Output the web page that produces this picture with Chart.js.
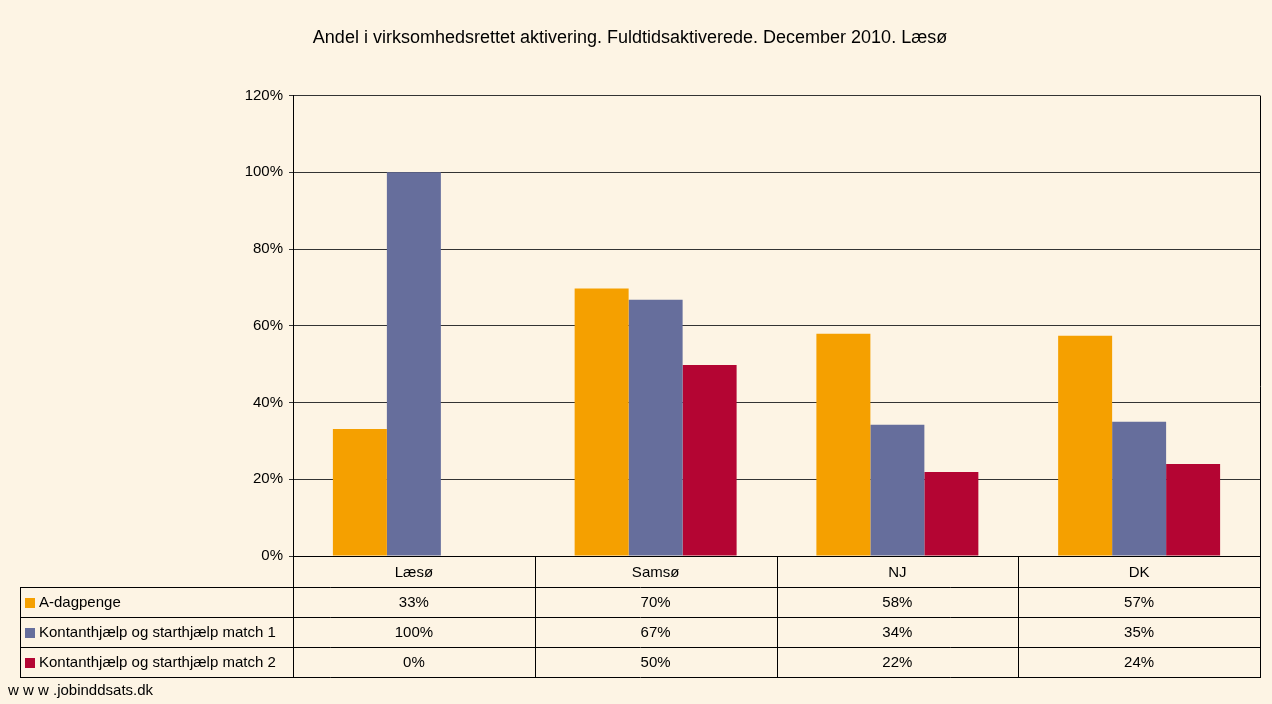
<!DOCTYPE html>
<html lang="da">

<head>
    <meta charset="UTF-8">
    <title>Andel i virksomhedsrettet aktivering</title>
    <script src="https://cdn.jsdelivr.net/npm/chart.js"></script>
    <style>
        body { margin: 0; background: #fdf4e4; }
        canvas { display: block; }
    </style>
</head>

<body>
    <canvas id="myChart" width="1272" height="704"></canvas>
</body>

<script>
    // data
    const kategorier = ['Læsø', 'Samsø', 'NJ', 'DK'];
    const serieNavne = ['A-dagpenge', 'Kontanthjælp og starthjælp match 1', 'Kontanthjælp og starthjælp match 2'];
    const aDagpenge = [33.1, 69.7, 57.9, 57.4];
    const match1 = [100, 66.8, 34.2, 35.0];
    const match2 = [0, 49.8, 21.9, 24.0];
    const yTicks = [0, 20, 40, 60, 80, 100, 120];
    const farver = ['#f5a000', '#666e9c', '#b40533'];

    const baggrund = '#fdf4e4';
    const fontNavn = '"Liberation Sans", Arial, sans-serif';

    // background + data table under the plot
    const tabelPlugin = {
        id: 'tabel',
        beforeDraw(chart) {
            const ctx = chart.ctx;
            ctx.save();
            ctx.fillStyle = baggrund;
            ctx.fillRect(0, 0, chart.width, chart.height);
            ctx.restore();
        },
        afterDraw(chart) {
            const ctx = chart.ctx;
            const area = chart.chartArea;
            const x = chart.scales.x;
            const kolBredde = (area.right - area.left) / kategorier.length;
            const hovedHoejde = 31;
            const raekkeHoejde = 30;
            const tabelTop = area.bottom + hovedHoejde;
            const tabelBund = tabelTop + raekkeHoejde * serieNavne.length;
            const tabelVenstre = 20;

            ctx.save();
            ctx.strokeStyle = '#000';
            ctx.lineWidth = 1;
            ctx.beginPath();
            // right border of plot + table
            ctx.moveTo(area.right + 0.5, area.top);
            ctx.lineTo(area.right + 0.5, tabelBund);
            // column lines
            for (let i = 0; i < kategorier.length; i++) {
                const xx = Math.round(area.left + i * kolBredde) + 0.5;
                ctx.moveTo(xx, area.bottom);
                ctx.lineTo(xx, tabelBund);
            }
            // outer left line of legend column
            ctx.moveTo(tabelVenstre + 0.5, tabelTop);
            ctx.lineTo(tabelVenstre + 0.5, tabelBund);
            // row lines
            for (let r = 0; r <= serieNavne.length; r++) {
                const yy = tabelTop + r * raekkeHoejde + 0.5;
                ctx.moveTo(tabelVenstre, yy);
                ctx.lineTo(area.right + 1, yy);
            }
            ctx.stroke();

            ctx.font = '15px ' + fontNavn;
            ctx.fillStyle = '#000';
            ctx.textBaseline = 'middle';
            const datasets = chart.data.datasets;
            datasets.forEach((ds, r) => {
                const yc = tabelTop + r * raekkeHoejde + raekkeHoejde / 2 + 1;
                ctx.fillStyle = ds.backgroundColor;
                ctx.fillRect(tabelVenstre + 5, yc - 5, 10, 10);
                ctx.fillStyle = '#000';
                ctx.textAlign = 'left';
                ctx.fillText(ds.label, tabelVenstre + 19, yc);
                ctx.textAlign = 'center';
                ds.data.forEach((v, i) => {
                    ctx.fillText(Math.round(v) + '%', x.getPixelForValue(i), yc);
                });
            });

            ctx.textAlign = 'left';
            ctx.fillText('w w w .jobinddsats.dk', 8, tabelBund + 14);
            ctx.restore();
        }
    };

    const ctx = document.getElementById('myChart');

    new Chart(ctx, {
        type: 'bar',
        data: {
            labels: kategorier,
            datasets: [
                { label: serieNavne[0], data: aDagpenge, backgroundColor: farver[0] },
                { label: serieNavne[1], data: match1, backgroundColor: farver[1] },
                { label: serieNavne[2], data: match2, backgroundColor: farver[2] }
            ]
        },
        options: {
            responsive: false,
            animation: false,
            devicePixelRatio: 1,
            categoryPercentage: 0.67,
            barPercentage: 1,
            layout: {
                padding: { left: 0, right: 12, top: 0, bottom: 0 }
            },
            plugins: {
                legend: { display: false },
                tooltip: { enabled: false },
                title: {
                    display: true,
                    text: 'Andel i virksomhedsrettet aktivering. Fuldtidsaktiverede. December 2010. Læsø',
                    color: '#000',
                    font: { family: fontNavn, size: 18, weight: 'normal' },
                    padding: { top: 27, bottom: 47 }
                }
            },
            scales: {
                y: {
                    min: 0,
                    max: 120,
                    afterBuildTicks: (s) => { s.ticks = yTicks.map(v => ({ value: v })); },
                    afterFit: (s) => { s.width = 293; },
                    ticks: {
                        color: '#000',
                        padding: 6,
                        font: { family: fontNavn, size: 15 },
                        callback: (v) => v + '%'
                    },
                    grid: { color: '#333', tickLength: 4, lineWidth: 1 },
                    border: { display: true, color: '#000' }
                },
                x: {
                    afterFit: (s) => { s.height = 148; },
                    ticks: {
                        color: '#000',
                        padding: 0,
                        font: { family: fontNavn, size: 15 }
                    },
                    grid: { display: false },
                    border: { display: true, color: '#000' }
                }
            }
        },
        plugins: [tabelPlugin]
    });
</script>

</html>
